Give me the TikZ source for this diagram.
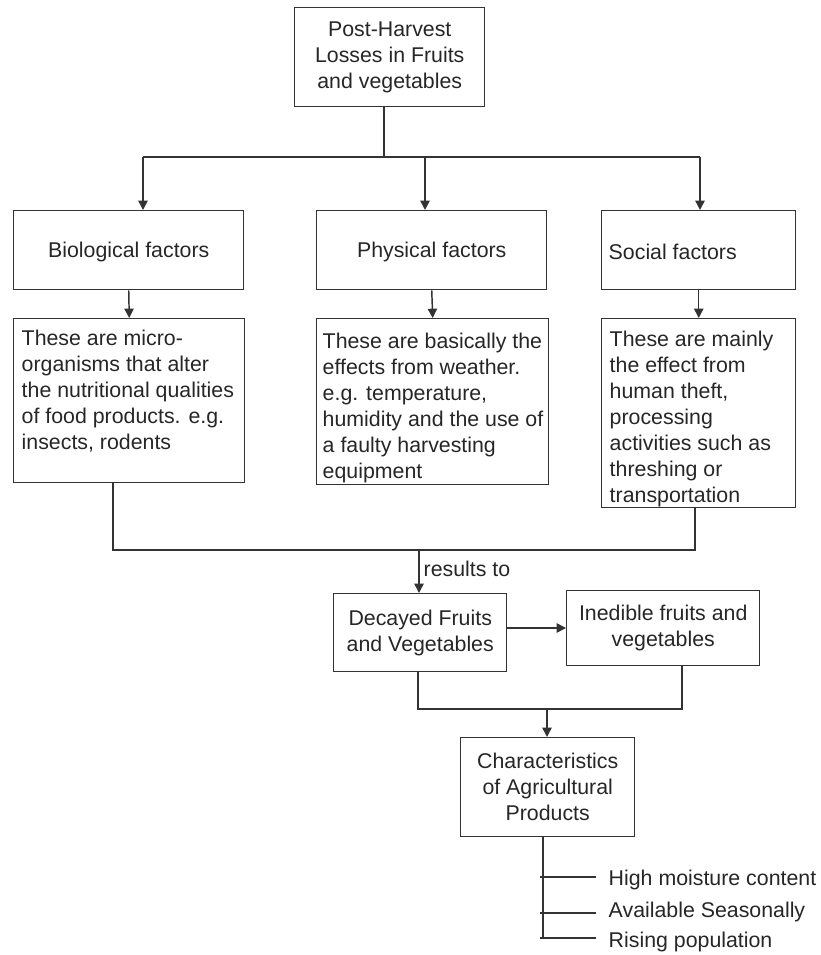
\documentclass[tikz,border=0pt]{standalone}
\usepackage{fontspec}
\setmainfont{Liberation Sans}
\usetikzlibrary{arrows.meta,calc}
\begin{document}
\begin{tikzpicture}[x=0.75pt,y=-0.75pt,
  line width=1.1pt,
  every node/.style={text=black!85},
  txt/.style={font=\fontsize{16}{19.5}\selectfont},
  box/.style={draw=black!80, line width=1.1pt, rectangle, inner sep=0pt, anchor=north west},
  link/.style={draw=black!80, line width=1.1pt},
  arr/.style={link, -{Triangle[length=7pt,width=7pt]}}]
\useasboundingbox (0,0) rectangle (820,955);

% ---- head box ----
\node[box, minimum width=190*0.75pt, minimum height=99*0.75pt] (head) at (294,7) {};
\node[txt, align=center] (headtxt) at (head.center) {Post-Harvest\\Losses in Fruits\\and vegetables};

% ---- factor boxes ----
\node[box, minimum width=230*0.75pt, minimum height=79*0.75pt] (bio) at (13,210) {};
\node[txt] (biotxt) at ($(bio.center)+(0,2)$) {Biological factors};
\node[box, minimum width=230*0.75pt, minimum height=79*0.75pt] (phy) at (316,210) {};
\node[txt] (phytxt) at ($(phy.center)+(0,2)$) {Physical factors};
\node[box, minimum width=194*0.75pt, minimum height=79*0.75pt] (soc) at (601,210) {};
\node[txt, anchor=west, inner sep=0pt] (soctxt) at (608,252) {Social factors};

% ---- description boxes ----
\node[box, minimum width=231*0.75pt, minimum height=164*0.75pt] (biod) at (13,318) {};
\node[txt, align=left, anchor=north west, inner sep=0pt] (biodtxt) at (21,329)
  {These are micro-\\organisms that alter\\the nutritional qualities\\of food products. e.g.\\insects, rodents};
\node[box, minimum width=232*0.75pt, minimum height=166*0.75pt] (phyd) at (316,318) {};
\node[txt, align=left, anchor=north west, inner sep=0pt] (phydtxt) at (322,332)
  {These are basically the\\effects from weather.\\e.g. temperature,\\humidity and the use of\\a faulty harvesting\\equipment};
\node[box, minimum width=194*0.75pt, minimum height=189*0.75pt] (socd) at (601,318) {};
\node[txt, align=left, anchor=north west, inner sep=0pt] (socdtxt) at (609,330)
  {These are mainly\\the effect from\\human theft,\\processing\\activities such as\\threshing or\\transportation};

% ---- outcome boxes ----
\node[box, minimum width=173*0.75pt, minimum height=78*0.75pt] (dec) at (333,593) {};
\node[txt, align=center] (dectxt) at (dec.center) {Decayed Fruits\\and Vegetables};
\node[box, minimum width=193*0.75pt, minimum height=75*0.75pt] (ined) at (566,590) {};
\node[txt, align=center] (inedtxt) at (ined.center) {Inedible fruits and\\vegetables};

\node[box, minimum width=174*0.75pt, minimum height=99*0.75pt] (char) at (460,737) {};
\node[txt, align=center] (chartxt) at (char.center) {Characteristics\\of Agricultural\\Products};

% ---- characteristic list ----
\node[txt, anchor=west, inner sep=0pt] (c1) at (608,880) {High moisture content};
\node[txt, anchor=west, inner sep=0pt] (c2) at (608,912) {Available Seasonally};
\node[txt, anchor=west, inner sep=0pt] (c3) at (608,942) {Rising population};

% ---- connectors: head to factors ----
\coordinate (hub) at (384,157);
\coordinate (jl) at (143,157);
\coordinate (jm) at (425,157);
\coordinate (jr) at (700,157);
\draw[link] (head.south -| hub) -- (hub);
\draw[link] (jl) -- (jr);
\draw[arr] (jl) -- (jl |- bio.north);
\draw[arr] (jm) -- (jm |- phy.north);
\draw[arr] (jr) -- (jr |- soc.north);

% ---- factors to descriptions ----
\draw[arr] (bio.south) -- (biod.north);
\draw[arr] (phy.south) -- (phyd.north);
\draw[arr] (soc.south) -- (socd.north);

% ---- descriptions join ----
\coordinate (ml) at (113,550);
\coordinate (mr) at (695,550);
\coordinate (mj) at (419,550);
\draw[link] (biod.south -| ml) -- (ml) -- (mr) -- (socd.south -| mr);
\draw[arr] (mj) -- (mj |- dec.north);
\node[txt, anchor=west, inner sep=0pt] (res) at (423,569) {results to};

\draw[arr] (dec.east |- 0,628) -- (ined.west |- 0,628);

% ---- outcomes join ----
\coordinate (ol) at (418,709);
\coordinate (or) at (682,709);
\coordinate (oj) at (547,709);
\draw[link] (dec.south -| ol) -- (ol) -- (or) -- (ined.south -| or);
\draw[arr] (oj) -- (oj |- char.north);

% ---- characteristic branches ----
\coordinate (tr) at (543,938);
\draw[link] (char.south -| tr) -- (tr);
\draw[link] (540,877) -- ($(c1.west)+(-12,-3)$);
\draw[link] (540,913) -- ($(c2.west)+(-12,1)$);
\draw[link] (540,938) -- ($(c3.west)+(-12,-4)$);
\end{tikzpicture}
\end{document}
